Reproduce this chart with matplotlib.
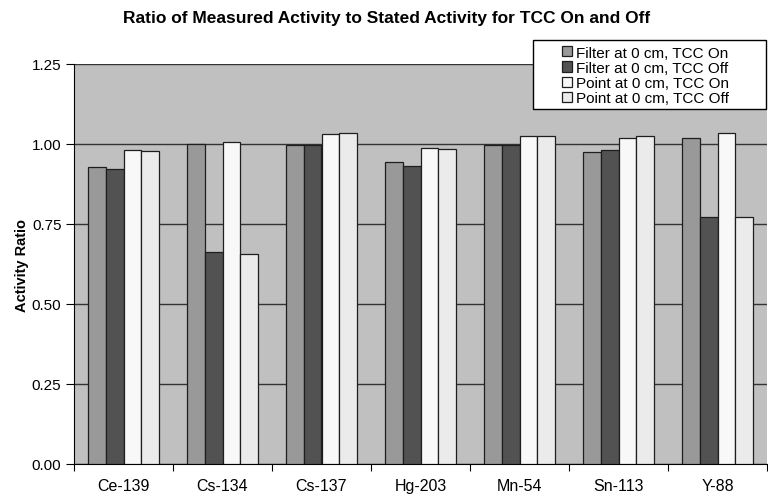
import numpy as np
import matplotlib.pyplot as plt
from matplotlib.patches import Rectangle

plt.rcParams['font.family'] = ['Liberation Sans', 'DejaVu Sans']

# Data
isotopes = ['Ce-139', 'Cs-134', 'Cs-137', 'Hg-203', 'Mn-54', 'Sn-113', 'Y-88']
filter_tcc_on = [0.929, 1.000, 0.998, 0.945, 0.997, 0.974, 1.019]
filter_tcc_off = [0.922, 0.661, 0.998, 0.932, 0.997, 0.981, 0.773]
point_tcc_on = [0.981, 1.005, 1.030, 0.988, 1.026, 1.019, 1.033]
point_tcc_off = [0.978, 0.657, 1.033, 0.984, 1.026, 1.026, 0.773]

series_names = ['Filter at 0 cm, TCC On', 'Filter at 0 cm, TCC Off',
                'Point at 0 cm, TCC On', 'Point at 0 cm, TCC Off']
series_values = [filter_tcc_on, filter_tcc_off, point_tcc_on, point_tcc_off]
series_colors = ['#999999', '#525252', '#f8f8f8', '#ebebeb']

W, H = 768, 502
fig = plt.figure(figsize=(W / 100, H / 100), dpi=100)
ax = fig.add_axes([74 / W, (H - 465) / H, 693 / W, 400 / H])
ax.set_facecolor('#c0c0c0')

x = np.arange(len(isotopes))
bar_w = 0.18
handles = []
for i, (vals, col) in enumerate(zip(series_values, series_colors)):
    b = ax.bar(x + (i - 1.5) * bar_w, vals, width=bar_w, color=col,
               edgecolor='#1e1e1e', linewidth=0.9, zorder=3)
    handles.append(b)

ax.set_xlim(-0.5, len(isotopes) - 0.5)
ax.set_ylim(0, 1.25)
ax.set_yticks([0, 0.25, 0.5, 0.75, 1.0, 1.25])
ax.set_yticklabels(['%.2f' % v for v in [0, 0.25, 0.5, 0.75, 1.0, 1.25]])
ax.yaxis.grid(True, color='#333333', linewidth=1.0, zorder=1)
ax.set_axisbelow(True)

# category boundaries get the ticks, names sit in between
ax.set_xticks(np.arange(len(isotopes) + 1) - 0.5)
ax.set_xticklabels([])
ax.set_xticks(x, minor=True)
ax.set_xticklabels(isotopes, minor=True)
ax.tick_params(axis='x', which='major', direction='out', length=5, color='black')
ax.tick_params(axis='x', which='minor', length=0, pad=10, labelsize=11.5)
ax.tick_params(axis='y', direction='out', length=6, labelsize=11, pad=3)

for side in ['top', 'right']:
    ax.spines[side].set_visible(False)
ax.spines['left'].set_color('black')
ax.spines['bottom'].set_color('black')

ax.set_ylabel('Activity Ratio', fontsize=10.5, fontweight='bold')
ax.yaxis.set_label_coords(-45 / 693, 0.5)

fig.text(387 / W, 1 - 18 / H, 'Ratio of Measured Activity to Stated Activity for TCC On and Off',
         ha='center', va='center', fontsize=12.5, fontweight='bold')

# legend box
fig.patches.append(Rectangle((533 / W, 1 - 110 / H), (766 - 533) / W, (110 - 41) / H,
                             transform=fig.transFigure, facecolor='white',
                             edgecolor='black', linewidth=1.0, zorder=5))
leg = fig.legend(handles, series_names, loc='upper left',
                 bbox_to_anchor=(551 / W, 1 - 36 / H), frameon=False,
                 fontsize=11, handlelength=0.65, handleheight=0.65,
                 handletextpad=0.3, labelspacing=0.08, borderpad=0.2)
leg.set_zorder(6)

fig.savefig('out.png', dpi=100)
